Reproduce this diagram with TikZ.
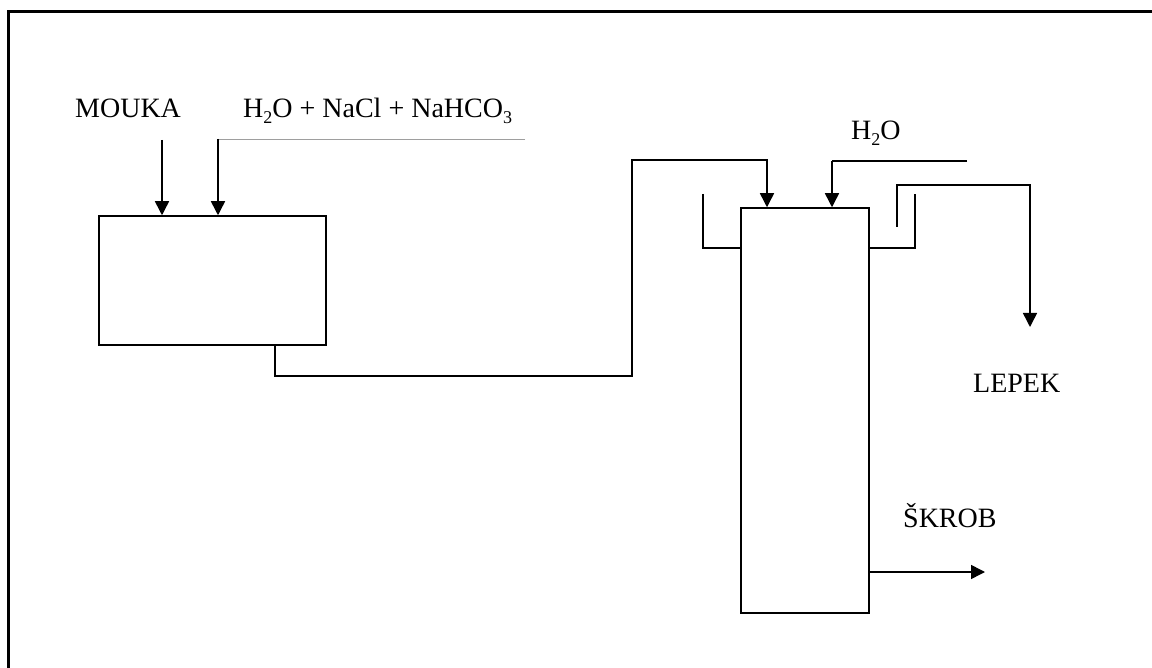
\documentclass[tikz,border=0pt]{standalone}
\usepackage{fontspec}
\setmainfont{Liberation Serif}
\usetikzlibrary{arrows.meta}
\newcommand{\chsub}[1]{\raisebox{-0.2em}{\fontsize{18}{18}\selectfont #1}}
\begin{document}
\begin{tikzpicture}[x=1pt,y=-1pt,
  lbl/.style={inner sep=0pt, font=\fontsize{28}{32}\selectfont},
  pipe/.style={line width=1.5pt, line join=miter},
  arr/.style={pipe, -{Triangle[length=14pt,width=14pt]}},
  unit/.style={draw, line width=1.5pt, inner sep=0pt, rectangle},
  feed/.style={draw=black!38, line width=1pt}]
\useasboundingbox (0,0) rectangle (1152,668);
% frame
\draw[line width=3pt] (8,690) -- (8,12) -- (1170,12);
% units
\node[unit, minimum width=227pt, minimum height=129pt] (mixer) at (212.5,280.5) {};
\node[unit, minimum width=128pt, minimum height=405pt] (column) at (805,410.5) {};
% labels
\node[lbl, anchor=base west] (mouka) at (75,118) {MOUKA};
\node[lbl, anchor=base west] (brine) at (243,118) {H\chsub{2}O + NaCl + NaHCO\chsub{3}};
\node[lbl, anchor=base west] (water) at (851,140) {H\chsub{2}O};
\node[lbl, anchor=base west] (lepek) at (973,393) {LEPEK};
\node[lbl, anchor=base west] (skrob) at (903,527) {ŠKROB};
% feeds to mixer
\coordinate (moukaIn) at (162,140);
\draw[arr] (moukaIn) -- (moukaIn |- mixer.north);
\coordinate (brineEnd) at (525,140);
\coordinate (brineIn) at (218,140);
\draw[feed] (brineEnd) -- (brineIn);
\draw[arr] (218,139) -- (brineIn |- mixer.north);
% mixer to column
\coordinate (mixOut) at (275,345);
\coordinate (colIn) at (767,160);
\draw[arr] (mixer.south -| mixOut) -- (275,376) -- (632,376) -- (632,160) -- (colIn) -- (colIn |- column.north);
% water to column
\coordinate (waterEnd) at (967,161);
\coordinate (waterIn) at (832,161);
\draw[pipe] (waterEnd) -- (waterIn);
\draw[arr] (waterIn) -- (waterIn |- column.north);
% overflow stubs
\draw[pipe] (703,194) -- (703,248) -- (column.west |- 0,248);
\draw[pipe] (column.east |- 0,248) -- (915,248) -- (915,194);
% gluten outlet
\coordinate (lepekOut) at (1030,327);
\draw[arr] (897,227) -- (897,185) -- (1030,185) -- (lepekOut);
% starch outlet
\coordinate (skrobOut) at (985,572);
\draw[arr] (column.east |- skrobOut) -- (skrobOut);
\end{tikzpicture}
\end{document}
